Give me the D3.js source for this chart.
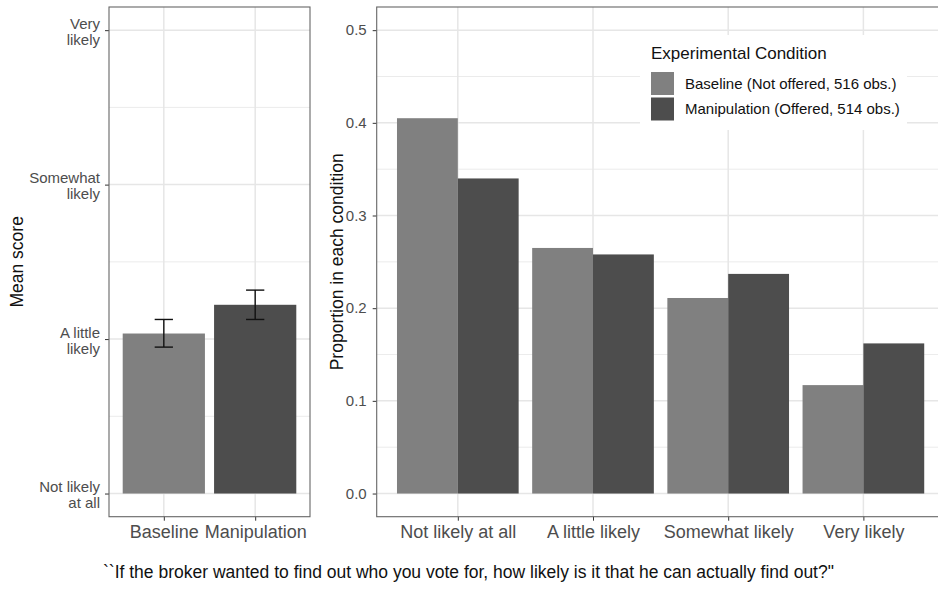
<!DOCTYPE html>
<html>
<head>
<meta charset="utf-8">
<script src="https://cdn.jsdelivr.net/npm/d3@7"></script>
<style>
  body { margin: 0; background: #fff; }
  svg { font-family: "Liberation Sans", Arial, sans-serif; display: block; }
</style>
</head>
<body>
<div id="chart"></div>
<script>
// Data

// left panel: mean score per condition, with error bars
const conditions = ["Baseline", "Manipulation"];
const meanScore = [2.036, 2.222];
const ciLow = [1.948, 2.127];
const ciHigh = [2.127, 2.317];
const scoreTicks = [1, 2, 3, 4];
const scoreTickLabels = [["Not likely", "at all"], ["A little", "likely"], ["Somewhat", "likely"], ["Very", "likely"]];

// right panel: share of each answer by condition
const responses = ["Not likely at all", "A little likely", "Somewhat likely", "Very likely"];
const baselineProp = [0.405, 0.265, 0.211, 0.117];
const manipProp = [0.340, 0.258, 0.237, 0.162];
const propTicks = [0, 0.1, 0.2, 0.3, 0.4, 0.5];
const propMinorTicks = [0.05, 0.15, 0.25, 0.35, 0.45];
const groups = ["base", "manip"];
const legendLabels = ["Baseline (Not offered, 516 obs.)", "Manipulation (Offered, 514 obs.)"];

const caption = "``If the broker wanted to find out who you vote for, how likely is it that he can actually find out?\"";

// Dimensions
const width = 938, height = 593;
const panelTop = 7, panelBottom = 516.7;
const colors = { base: "#808080", manip: "#4d4d4d" };
const gridColor = "#e6e6e6";
const tickColor = "#4d4d4d";

let svg = d3.select("#chart").append("svg")
    .attr("width", width)
    .attr("height", height)

// ------------ LEFT PANEL ------------ //
const L = { x0: 109, x1: 310 };

let xLeft = d3.scalePoint().domain(conditions).range([L.x0, L.x1]).padding(0.6);
let yLeft = d3.scaleLinear().domain([0.85, 4.15]).range([panelBottom, panelTop]);
const stepL = xLeft.step();

let left = svg.append("g");

// grid
left.append("g").selectAll("line")
    .data([1.5, 2.5, 3.5])
    .enter().append("line")
    .attr("x1", L.x0).attr("x2", L.x1)
    .attr("y1", d => yLeft(d)).attr("y2", d => yLeft(d))
    .attr("stroke", gridColor).attr("stroke-width", 0.8)
left.append("g").selectAll("line")
    .data(scoreTicks)
    .enter().append("line")
    .attr("x1", L.x0).attr("x2", L.x1)
    .attr("y1", d => yLeft(d)).attr("y2", d => yLeft(d))
    .attr("stroke", gridColor).attr("stroke-width", 1.5)
left.append("g").selectAll("line")
    .data(conditions)
    .enter().append("line")
    .attr("x1", d => xLeft(d)).attr("x2", d => xLeft(d))
    .attr("y1", panelTop).attr("y2", panelBottom)
    .attr("stroke", gridColor).attr("stroke-width", 1.5)

// bars start at "Not likely at all"
left.append("g").selectAll("rect")
    .data(conditions)
    .enter().append("rect")
    .attr("x", d => xLeft(d) - stepL * 0.45)
    .attr("width", stepL * 0.9)
    .attr("y", (d, i) => yLeft(meanScore[i]))
    .attr("height", (d, i) => yLeft(1) - yLeft(meanScore[i]))
    .attr("fill", (d, i) => i === 0 ? colors.base : colors.manip)

// error bars
let eb = left.append("g").attr("stroke", "#111").attr("stroke-width", 1.4).attr("fill", "none");
conditions.forEach((c, i) => {
    let cx = xLeft(c), hw = stepL * 0.1;
    eb.append("line").attr("x1", cx).attr("x2", cx).attr("y1", yLeft(ciLow[i])).attr("y2", yLeft(ciHigh[i]))
    eb.append("line").attr("x1", cx - hw).attr("x2", cx + hw).attr("y1", yLeft(ciLow[i])).attr("y2", yLeft(ciLow[i]))
    eb.append("line").attr("x1", cx - hw).attr("x2", cx + hw).attr("y1", yLeft(ciHigh[i])).attr("y2", yLeft(ciHigh[i]))
})

// axes
let yAxisL = left.append("g")
    .attr("transform", `translate(${L.x0},0)`)
    .call(d3.axisLeft(yLeft).tickValues(scoreTicks).tickSize(4).tickPadding(5).tickFormat(""))
yAxisL.select(".domain").remove()
yAxisL.selectAll(".tick line").attr("stroke", "#333")
yAxisL.selectAll(".tick text")
    .attr("font-size", "15px").attr("fill", tickColor).attr("dy", null)
    .each(function(d, i) {
        let t = d3.select(this);
        t.append("tspan").attr("x", -9).attr("y", -2).text(scoreTickLabels[i][0]);
        t.append("tspan").attr("x", -9).attr("y", 14).text(scoreTickLabels[i][1]);
    })

let xAxisL = left.append("g")
    .attr("transform", `translate(0,${panelBottom})`)
    .call(d3.axisBottom(xLeft).tickSize(4).tickPadding(4.5))
xAxisL.select(".domain").remove()
xAxisL.selectAll(".tick line").attr("stroke", "#333")
xAxisL.selectAll(".tick text").attr("font-size", "18px").attr("fill", tickColor)

left.append("rect")
    .attr("x", L.x0).attr("y", panelTop)
    .attr("width", L.x1 - L.x0).attr("height", panelBottom - panelTop)
    .attr("fill", "none").attr("stroke", "#666").attr("stroke-width", 1.1)

left.append("text")
    .attr("transform", `translate(23,${(panelTop + panelBottom) / 2}) rotate(-90)`)
    .attr("text-anchor", "middle")
    .attr("font-size", "17.5px")
    .attr("fill", "#111")
    .text("Mean score")

// ------------ RIGHT PANEL ------------ //
const R = { x0: 376.7, x1: 944.5 };

let xRight = d3.scalePoint().domain(responses).range([R.x0, R.x1]).padding(0.6);
const stepR = xRight.step();
let xSub = d3.scaleBand().domain(groups).range([-stepR * 0.45, stepR * 0.45]);
let yRight = d3.scaleLinear().domain([-0.025, 0.525]).range([panelBottom, panelTop]);

let right = svg.append("g");

right.append("g").selectAll("line")
    .data(propMinorTicks)
    .enter().append("line")
    .attr("x1", R.x0).attr("x2", R.x1)
    .attr("y1", d => yRight(d)).attr("y2", d => yRight(d))
    .attr("stroke", gridColor).attr("stroke-width", 0.8)
right.append("g").selectAll("line")
    .data(propTicks)
    .enter().append("line")
    .attr("x1", R.x0).attr("x2", R.x1)
    .attr("y1", d => yRight(d)).attr("y2", d => yRight(d))
    .attr("stroke", gridColor).attr("stroke-width", 1.5)
right.append("g").selectAll("line")
    .data(responses)
    .enter().append("line")
    .attr("x1", d => xRight(d)).attr("x2", d => xRight(d))
    .attr("y1", panelTop).attr("y2", panelBottom)
    .attr("stroke", gridColor).attr("stroke-width", 1.5)

// dodged bars
let barData = [];
responses.forEach((r, i) => {
    barData.push({ resp: r, group: "base", value: baselineProp[i] });
    barData.push({ resp: r, group: "manip", value: manipProp[i] });
})

right.append("g").selectAll("rect")
    .data(barData)
    .enter().append("rect")
    .attr("x", d => xRight(d.resp) + xSub(d.group))
    .attr("width", xSub.bandwidth())
    .attr("y", d => yRight(d.value))
    .attr("height", d => yRight(0) - yRight(d.value))
    .attr("fill", d => colors[d.group])

let yAxisR = right.append("g")
    .attr("transform", `translate(${R.x0},0)`)
    .call(d3.axisLeft(yRight).tickValues(propTicks).tickSize(4).tickPadding(6).tickFormat(d3.format(".1f")))
yAxisR.select(".domain").remove()
yAxisR.selectAll(".tick line").attr("stroke", "#333")
yAxisR.selectAll(".tick text").attr("font-size", "15px").attr("fill", tickColor)

let xAxisR = right.append("g")
    .attr("transform", `translate(0,${panelBottom})`)
    .call(d3.axisBottom(xRight).tickSize(4).tickPadding(4.5))
xAxisR.select(".domain").remove()
xAxisR.selectAll(".tick line").attr("stroke", "#333")
xAxisR.selectAll(".tick text").attr("font-size", "18px").attr("fill", tickColor)

right.append("rect")
    .attr("x", R.x0).attr("y", panelTop)
    .attr("width", R.x1 - R.x0).attr("height", panelBottom - panelTop)
    .attr("fill", "none").attr("stroke", "#666").attr("stroke-width", 1.1)

right.append("text")
    .attr("transform", `translate(343,${(panelTop + panelBottom) / 2}) rotate(-90)`)
    .attr("text-anchor", "middle")
    .attr("font-size", "17.5px")
    .attr("fill", "#111")
    .text("Proportion in each condition")

// legend
let legend = right.append("g").attr("transform", "translate(640,35)");
legend.append("rect").attr("width", 267).attr("height", 95).attr("fill", "#fff")
legend.append("text")
    .attr("x", 11).attr("y", 24)
    .attr("font-size", "17px").attr("fill", "#111")
    .text("Experimental Condition")
let keys = legend.selectAll(".key")
    .data(groups)
    .enter().append("g")
    .attr("transform", (d, i) => `translate(11,${37 + i * 25.5})`)
keys.append("rect").attr("width", 23).attr("height", 23).attr("fill", d => colors[d])
keys.append("text")
    .attr("x", 34).attr("y", 11.5).attr("dy", "0.35em")
    .attr("font-size", "15px").attr("fill", "#111")
    .text((d, i) => legendLabels[i])

// caption
svg.append("text")
    .attr("x", 103).attr("y", 578)
    .attr("font-size", "17.5px").attr("fill", "#111")
    .text(caption)
</script>
</body>
</html>
